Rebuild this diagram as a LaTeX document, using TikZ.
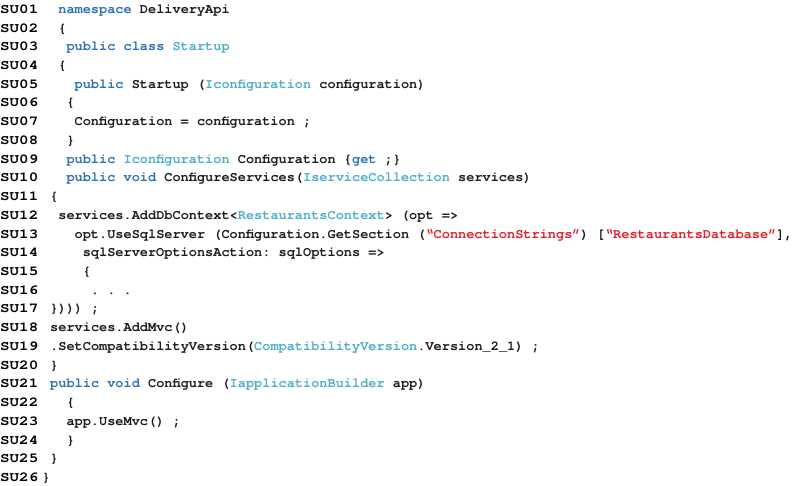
\documentclass[tikz,border=0pt]{standalone}
\usepackage{fontspec}
\newfontfamily\monofam{TeX Gyre Cursor}
\definecolor{kwblue}{HTML}{2E70B4}
\definecolor{tyteal}{HTML}{4FAEC9}
\definecolor{strred}{HTML}{E2202A}
\definecolor{codegray}{HTML}{1C1C1C}
\newcommand\kw[1]{\textcolor{kwblue}{#1}}
\newcommand\ty[1]{\textcolor{tyteal}{#1}}
\newcommand\strlit[1]{\textcolor{strred}{#1}}
\frenchspacing
\begin{document}
\begin{tikzpicture}[x=1pt,y=1pt,
    lineno/.style={anchor=base west,inner sep=0pt,xscale=1.165,
      font=\monofam\bfseries\fontsize{13.6}{16}\selectfont},
    code/.style={anchor=base west,inner sep=0pt,text=codegray,
      font=\monofam\bfseries\fontsize{13.6}{16}\selectfont}]
  \useasboundingbox (0,0) rectangle (802,-486);
  % line numbers
  \foreach \i in {1,...,26}
    \node[lineno] (n\i) at (0,{-13.3-(\i-1)*18.73}) {SU\ifnum\i<10 0\fi\i};
  % code, one node per line, indented on an 8.15pt grid
  \node[code] (l1) at (58.15,0 |- n1.base) {\kw{namespace} DeliveryApi};
  \node[code] (l2) at (58.15,0 |- n2.base) {\{};
  \node[code] (l3) at (66.3,0 |- n3.base) {\kw{public class} \ty{Startup}};
  \node[code] (l4) at (58.15,0 |- n4.base) {\{};
  \node[code] (l5) at (74.45,0 |- n5.base) {\kw{public} Startup (\ty{Iconfiguration} configuration)};
  \node[code] (l6) at (66.3,0 |- n6.base) {\{};
  \node[code] (l7) at (74.45,0 |- n7.base) {Configuration = configuration ;};
  \node[code] (l8) at (66.3,0 |- n8.base) {\}};
  \node[code] (l9) at (66.3,0 |- n9.base) {\kw{public} \ty{Iconfiguration} Configuration \{\kw{get} ;\}};
  \node[code] (l10) at (66.3,0 |- n10.base) {\kw{public void} ConfigureServices(\ty{IserviceCollection} services)};
  \node[code] (l11) at (50,0 |- n11.base) {\{};
  \node[code] (l12) at (58.15,0 |- n12.base) {services.AddDbContext<\ty{RestaurantsContext}> (opt =>};
  \node[code] (l13) at (74.45,0 |- n13.base) {opt.UseSqlServer (Configuration.GetSection (\strlit{“ConnectionStrings”}) [\strlit{“RestaurantsDatabase”}],};
  \node[code] (l14) at (82.6,0 |- n14.base) {sqlServerOptionsAction: sqlOptions =>};
  \node[code] (l15) at (82.6,0 |- n15.base) {\{};
  \node[code] (l16) at (90.75,0 |- n16.base) {. . .};
  \node[code] (l17) at (50,0 |- n17.base) {\}))) ;};
  \node[code] (l18) at (50,0 |- n18.base) {services.AddMvc()};
  \node[code] (l19) at (50,0 |- n19.base) {.SetCompatibilityVersion(\ty{CompatibilityVersion}.Version\_2\_1) ;};
  \node[code] (l20) at (50,0 |- n20.base) {\}};
  \node[code] (l21) at (50,0 |- n21.base) {\kw{public void} Configure (\ty{IapplicationBuilder} app)};
  \node[code] (l22) at (66.3,0 |- n22.base) {\{};
  \node[code] (l23) at (66.3,0 |- n23.base) {app.UseMvc() ;};
  \node[code] (l24) at (66.3,0 |- n24.base) {\}};
  \node[code] (l25) at (50,0 |- n25.base) {\}};
  \node[code] (l26) at (41.85,0 |- n26.base) {\}};
\end{tikzpicture}
\end{document}
